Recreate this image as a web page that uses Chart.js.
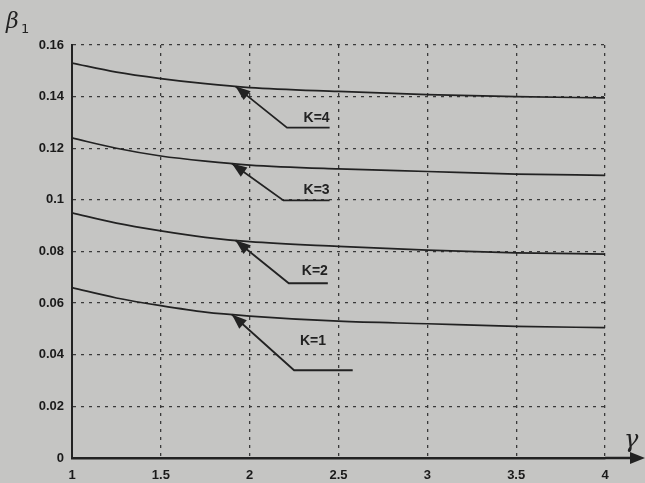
<!DOCTYPE html>
<html>
<head>
<meta charset="utf-8">
<script src="https://cdn.jsdelivr.net/npm/chart.js@4"></script>
<style>
  html, body { margin: 0; padding: 0; background: #c5c5c3; }
  #wrap { width: 645px; height: 483px; }
</style>
</head>
<body>
<div id="wrap"><canvas id="betaChart" width="645" height="483"></canvas></div>
<script>
// gamma values (x) and beta1 for each K
const gamma = [1, 1.25, 1.5, 1.75, 2, 2.5, 3, 3.5, 4];
const betaK1 = [0.066, 0.062, 0.059, 0.0565, 0.055, 0.053, 0.052, 0.051, 0.0505];
const betaK2 = [0.095, 0.091, 0.088, 0.0855, 0.0838, 0.082, 0.0805, 0.0795, 0.079];
const betaK3 = [0.124, 0.120, 0.117, 0.115, 0.1135, 0.112, 0.111, 0.110, 0.1095];
const betaK4 = [0.153, 0.1495, 0.147, 0.145, 0.1435, 0.142, 0.1408, 0.140, 0.1395];
const curveLabels = ['K=1', 'K=2', 'K=3', 'K=4'];
// arrow pointers: tip (on curve), elbow, end of the shelf, label anchor (data coords)
const arrowTipX = [1.9, 1.92, 1.9, 1.92];
const arrowElbow = [[2.25, 0.034], [2.22, 0.0677], [2.19, 0.0998], [2.21, 0.128]];
const arrowEndX = [2.58, 2.44, 2.45, 2.45];
const labelAt = [[2.43, 0.0426], [2.44, 0.0697], [2.45, 0.101], [2.45, 0.129]];
const xTicks = [1, 1.5, 2, 2.5, 3, 3.5, 4];

const series = [betaK1, betaK2, betaK3, betaK4];
const ink = '#222';

function valueAt(arr, x) {
    for (let i = 0; i < gamma.length - 1; i++) {
        if (x >= gamma[i] && x <= gamma[i + 1]) {
            const t = (x - gamma[i]) / (gamma[i + 1] - gamma[i]);
            return arr[i] + t * (arr[i + 1] - arr[i]);
        }
    }
    return arr[arr.length - 1];
}

// draws the K= pointers, axis arrow and axis titles
const extras = {
    id: 'extras',
    afterDatasetsDraw(chart) {
        const ctx = chart.ctx;
        const xs = chart.scales.x, ys = chart.scales.y;
        const area = chart.chartArea;
        ctx.save();
        ctx.strokeStyle = ink;
        ctx.fillStyle = ink;
        ctx.lineWidth = 1.8;

        series.forEach((arr, i) => {
            const tx = xs.getPixelForValue(arrowTipX[i]);
            const ty = ys.getPixelForValue(valueAt(arr, arrowTipX[i]));
            const ex = xs.getPixelForValue(arrowElbow[i][0]);
            const ey = ys.getPixelForValue(arrowElbow[i][1]);
            const fx = xs.getPixelForValue(arrowEndX[i]);
            ctx.beginPath();
            ctx.moveTo(fx, ey);
            ctx.lineTo(ex, ey);
            ctx.lineTo(tx, ty);
            ctx.stroke();
            // arrow head
            const ang = Math.atan2(ty - ey, tx - ex);
            const len = 16, w = 0.36;
            ctx.beginPath();
            ctx.moveTo(tx, ty);
            ctx.lineTo(tx - len * Math.cos(ang - w), ty - len * Math.sin(ang - w));
            ctx.lineTo(tx - len * Math.cos(ang + w), ty - len * Math.sin(ang + w));
            ctx.closePath();
            ctx.fill();
            // label
            ctx.font = 'bold 14px "Liberation Sans", Arial, sans-serif';
            ctx.textAlign = 'right';
            ctx.textBaseline = 'bottom';
            ctx.fillText(curveLabels[i], xs.getPixelForValue(labelAt[i][0]), ys.getPixelForValue(labelAt[i][1]));
        });

        // x axis arrow past gamma = 4
        const by = area.bottom;
        ctx.lineWidth = 2.5;
        ctx.beginPath();
        ctx.moveTo(area.right, by);
        ctx.lineTo(632, by);
        ctx.stroke();
        ctx.beginPath();
        ctx.moveTo(645, by);
        ctx.lineTo(630, by - 6);
        ctx.lineTo(630, by + 6);
        ctx.closePath();
        ctx.fill();

        // axis titles
        ctx.font = 'italic 24px "DejaVu Serif", serif';
        ctx.textAlign = 'left';
        ctx.textBaseline = 'alphabetic';
        ctx.fillText('γ', 624, 447);
        ctx.font = 'italic 22px "DejaVu Serif", serif';
        ctx.fillText('β', 6, 28);
        ctx.font = '13px "DejaVu Sans", sans-serif';
        ctx.fillText('1', 21, 33);
        ctx.restore();
    }
};

const ctx = document.getElementById('betaChart').getContext('2d');
new Chart(ctx, {
    type: 'line',
    data: {
        datasets: series.map((arr, i) => ({
            label: curveLabels[i],
            data: gamma.map((g, j) => ({ x: g, y: arr[j] })),
            borderColor: ink,
            borderWidth: 1.7,
            pointRadius: 0,
            fill: false,
            cubicInterpolationMode: 'monotone'
        }))
    },
    options: {
        responsive: false,
        animation: false,
        layout: { padding: { top: 45, right: 40, left: 0, bottom: 0 } },
        plugins: { legend: { display: false }, tooltip: { enabled: false } },
        scales: {
            x: {
                type: 'linear',
                min: 1, max: 4,
                afterFit(scale) { scale.height = 25; },
                afterBuildTicks(scale) { scale.ticks = xTicks.map(v => ({ value: v })); },
                grid: { color: '#3a3a3a', lineWidth: 1.3, drawTicks: false },
                border: { color: ink, width: 2.5, dash: [3, 5] },
                ticks: {
                    color: '#1a1a1a',
                    padding: 10,
                    maxRotation: 0,
                    font: { family: '"Liberation Sans", Arial, sans-serif', size: 13, weight: 'bold' },
                    callback: v => String(v)
                }
            },
            y: {
                min: 0, max: 0.16,
                afterFit(scale) { scale.width = 72; },
                grid: { color: '#3a3a3a', lineWidth: 1.3, drawTicks: false },
                border: { color: ink, width: 2, dash: [3, 5] },
                ticks: {
                    stepSize: 0.02,
                    color: '#1a1a1a',
                    padding: 8,
                    font: { family: '"Liberation Sans", Arial, sans-serif', size: 13, weight: 'bold' },
                    callback: v => (Math.round(v * 100) / 100).toString()
                }
            }
        }
    },
    plugins: [extras]
});
</script>
</body>
</html>
